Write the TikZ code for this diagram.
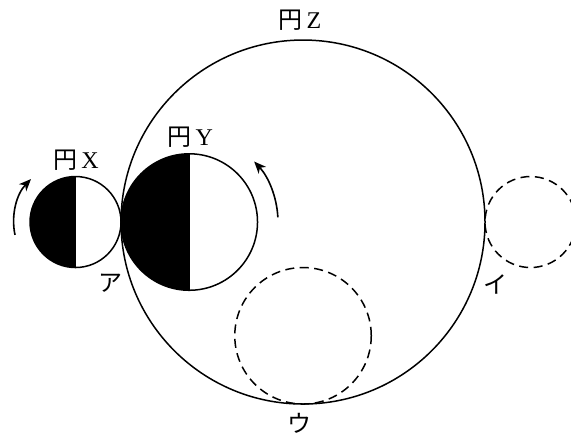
\documentclass[tikz,border=0pt]{standalone}
\usepackage{fontspec}
\setmainfont{Liberation Serif}
\newfontfamily\jp{Noto Sans CJK JP}
\usetikzlibrary{arrows.meta,calc}
\begin{document}
\begin{tikzpicture}[x=45.5pt,y=45.5pt,>={Stealth[length=12pt,width=10pt,inset=3.5pt]}]
\tikzset{rim/.style={line width=1.5pt,black}, ghost/.style={rim,dash pattern=on 9pt off 5.5pt}, lbl/.style={font=\fontsize{24}{28}\selectfont,inner sep=0pt}, turn/.style={->,line width=1.6pt}}
\useasboundingbox (-6.66,-4.79) rectangle (5.89,4.88);
\coordinate (cZ) at (0,0);
\coordinate (cX) at (-5,0);
\coordinate (cY) at (-2.5,0);
\coordinate (cI) at (5,0);
\coordinate (cU) at (0,-2.5);
% circle Z and the two moving positions
\draw[rim] (cZ) circle (4);
\draw[ghost] (cI) circle (1);
\draw[ghost] (cU) circle (1.5);
% circles X and Y, left halves black
\fill ($(cX)+(0,1)$) arc (90:270:1) -- cycle;
\draw[rim] ($(cX)+(0,1)$) -- ($(cX)+(0,-1)$);
\draw[rim] (cX) circle (1);
\fill ($(cY)+(0,1.5)$) arc (90:270:1.5) -- cycle;
\draw[rim] ($(cY)+(0,1.5)$) -- ($(cY)+(0,-1.5)$);
\draw[rim] (cY) circle (1.5);
\draw[turn] ($(cX)+(192:1.36)$) arc (192:136:1.36);
\draw[turn] ($(cY)+(3:1.95)$) arc (3:43:1.95);
\node[lbl] (lZ) at (-0.07,4.44) {{\jp 円}\,Z};
\node[lbl] (lX) at (-4.99,1.36) {{\jp 円}\,X};
\node[lbl] (lY) at (-2.48,1.87) {{\jp 円}\,Y};
\node[lbl] (lA) at (-4.24,-1.34) {\jp ア};
\node[lbl] (lI) at (4.22,-1.38) {\jp イ};
\node[lbl] (lU) at (-0.07,-4.42) {\jp ウ};
\end{tikzpicture}
\end{document}
